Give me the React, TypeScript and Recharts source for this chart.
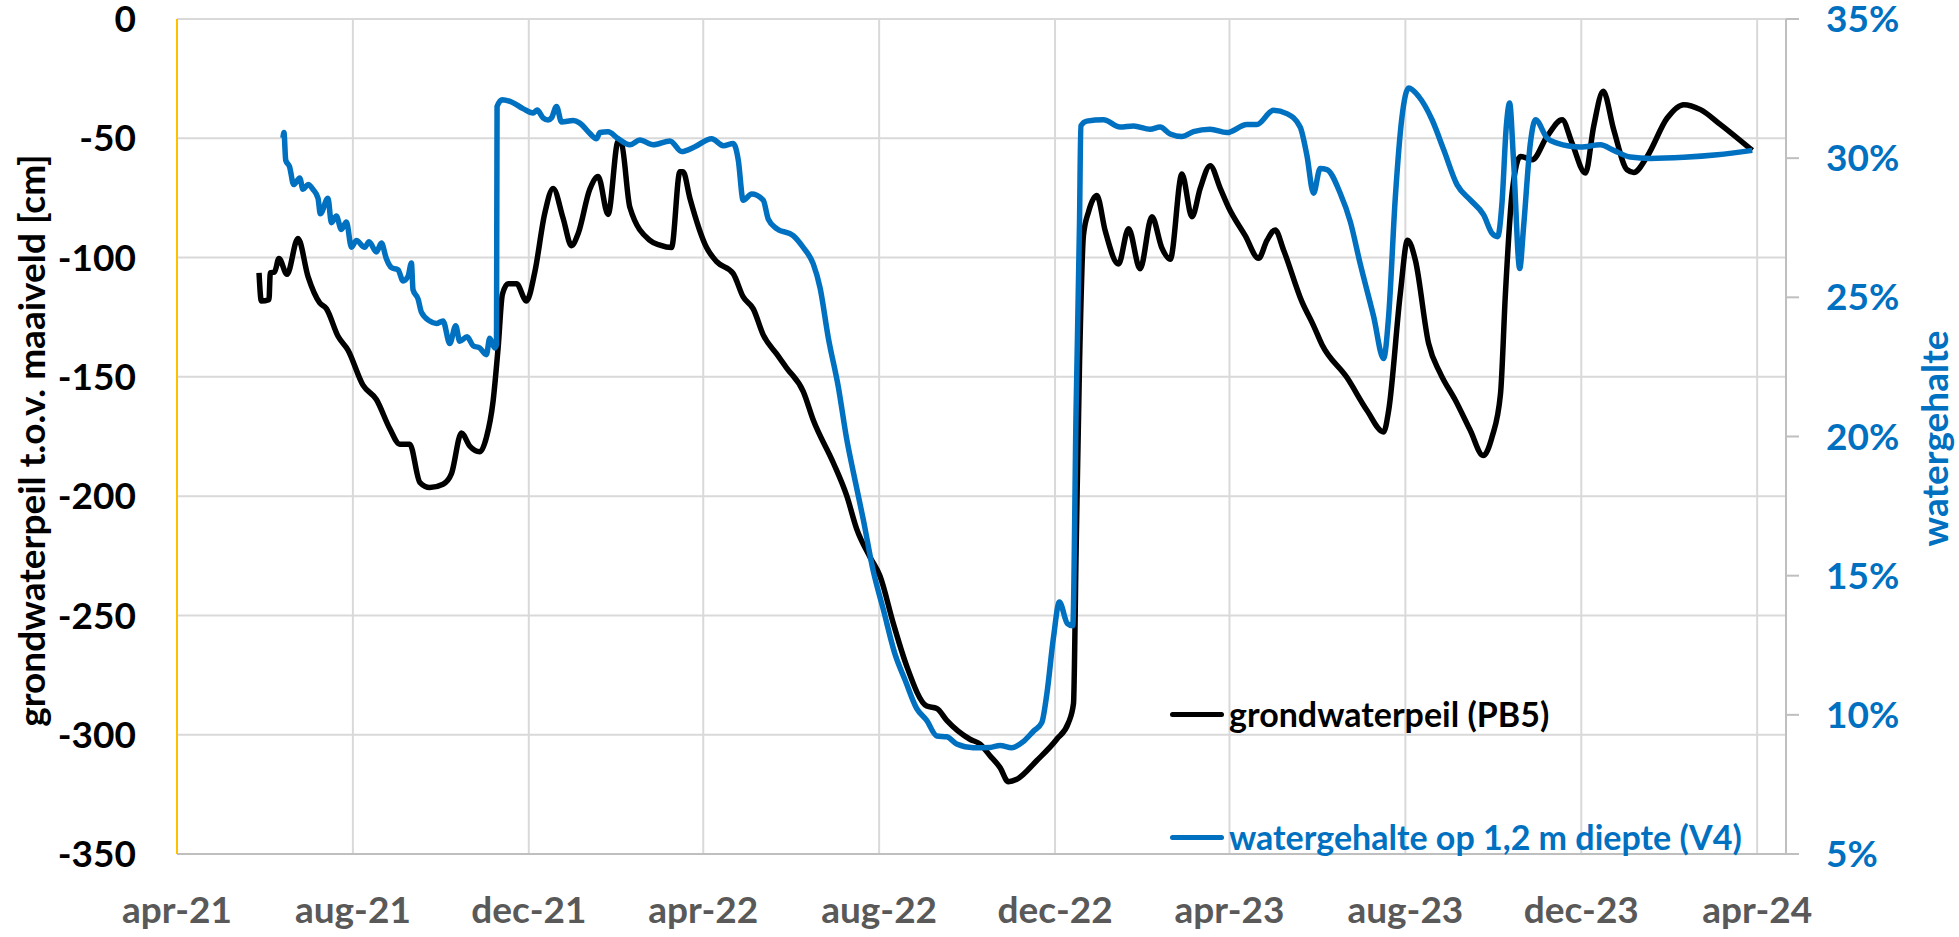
import React from 'react';
import { LineChart, Line, XAxis, YAxis, CartesianGrid, Legend } from 'recharts';

// x positions are days since 1 April 2021
const xTickDays = [0, 122, 244, 365, 487, 609, 730, 852, 974, 1096];
const xTickLabels = ['apr-21', 'aug-21', 'dec-21', 'apr-22', 'aug-22', 'dec-22', 'apr-23', 'aug-23', 'dec-23', 'apr-24'];
const gwTicks = [-350, -300, -250, -200, -150, -100, -50, 0];
const wgTicks = [5, 10, 15, 20, 25, 30, 35];

// grondwaterpeil (PB5) [cm t.o.v. maaiveld]
const gwDays = [
  56.9, 58.5, 63.8, 64.7, 67.7, 70.7, 76.3, 83.9, 90.9, 99, 103.6, 111.7, 118.6, 129, 138.3, 147.5, 154.5, 161.4,
  168.4, 175.3, 184.5, 190.4, 197.3, 203, 210, 214.6, 219.2, 222.7, 225.7, 229.7, 235.5, 242.4, 248.2, 255, 260.9,
  267.8, 273.6, 278.2, 286.3, 292.1, 299, 306, 308.3, 314.1, 328, 335, 343, 348.8, 351, 355.7, 367.3, 374.3, 385.8,
  392.7, 399.7, 406.6, 415.9, 422.9, 434.4, 441.3, 455.2, 464.5, 471.4, 480.7, 487.6, 496.8, 506.1, 520, 527, 533.9,
  550, 557, 563.9, 570.9, 576.6, 582.5, 596.4, 610.2, 618.3, 621.8, 623.6, 626, 628.7, 632.2, 638, 643.8, 653, 660,
  668, 676.2, 683, 688.9, 697, 704, 709.7, 716.6, 723.6, 729.3, 740.9, 750.2, 756, 761.7, 767.5, 780.3, 788.3, 794.1,
  811.5, 825.4, 836.9, 840.4, 848.5, 853.5, 858.9, 868.1, 876.3, 886.7, 897, 905.9, 912.1, 918, 921.4, 926, 931.8,
  939.9, 950.3, 960.7, 967.6, 976.9, 982.6, 989.2, 996.5, 1005.8, 1010.4, 1019.7, 1033.6, 1045.1, 1056.7, 1070.6, 1092.6,
];
const gwValues = [
  -106.4, -118.2, -117.6, -106.4, -106, -100.4, -107, -92, -108, -119, -121.4, -133, -138.8, -153.5, -159.5, -171.6,
  -178.2, -178.2, -194.2, -196.4, -195, -190.5, -173.5, -179, -181.4, -175.4, -160.4, -138, -115.4, -111, -111, -118.2,
  -106, -81.7, -71, -83.5, -95, -90, -71.4, -66, -81.9, -51.2, -52.2, -78.9, -92.8, -94.8, -95.8, -64, -64, -75, -95.8,
  -101.7, -106.7, -116.5, -121.5, -132.4, -140.4, -146.3, -156.2, -168.1, -186, -199.8, -213.7, -225.6, -233.5, -253.3,
  -271.2, -288, -289, -294, -301.9, -303.9, -308.8, -313.8, -319.7, -318.7, -310.8, -301.9, -295, -287, -223.7, -144,
  -90.8, -80.9, -74, -88.8, -102.7, -87.9, -104.7, -82.9, -95.8, -100.7, -65, -82.9, -71, -61.5, -71, -78.9, -90.8,
  -100.3, -92.8, -88.4, -96.8, -118.6, -128.5, -136.4, -150.3, -164.1, -173.1, -164.1, -115, -92.7, -101, -136, -148.6,
  -159.8, -172.4, -183, -175.2, -157, -115, -73, -57.6, -59, -49.2, -42.2, -52, -64.6, -45, -30.3, -46.4, -63.2, -64.3,
  -57.6, -41.5, -35.9, -38, -44.3, -55.1,
];

// watergehalte op 1,2 m diepte (V4) [%]
const wgDays = [
  73.5, 74.2, 75.4, 78.1, 80.9, 85.1, 87.4, 90.9, 94.3, 97.8, 99.4, 104.7, 107.1, 110.5, 114, 117.5, 121, 124.4, 130.2,
  133.2, 138.3, 141.8, 145.2, 148.7, 153.3, 156.8, 160.2, 162.6, 163.7, 167.2, 169.5, 175.3, 179.9, 184.5, 189.2, 193.3,
  196.1, 201.2, 205.4, 210, 214.6, 216.9, 220.4, 221.6, 222, 225.7, 232, 240, 247, 249.7, 253.9, 257.4, 259.8, 263.2,
  266.7, 274.8, 279.4, 286.3, 291, 293.3, 299, 306, 314.1, 321, 330.3, 341.9, 350, 359.2, 370.8, 378.9, 385.8, 389.3,
  392.7, 398.6, 406.6, 410.1, 415.9, 427.4, 434.4, 441.3, 446, 451.7, 458.7, 464.5, 469.1, 476, 483, 489.9, 498, 505,
  513, 520, 527, 533.9, 540.8, 552.4, 563.9, 570.9, 579, 587, 594, 599.8, 603.3, 607.9, 612, 617.6, 621.3, 623.6, 626,
  626.9, 631, 642.6, 654.1, 663.4, 675, 681.9, 688.9, 697, 705, 716.6, 728.2, 742.1, 749, 760.5, 769.8, 779, 783.7,
  788.3, 792.9, 797.6, 806.8, 813.8, 820.7, 829.9, 836.9, 840.4, 845, 849.6, 854.3, 861.2, 870.5, 878.6, 887.9, 897,
  906.3, 912.1, 916, 919, 922, 924.3, 927, 931.3, 934, 938.7, 942.2, 950.3, 957.2, 973.4, 987.3, 996.5, 1008, 1022,
  1045.1, 1068.3, 1092.6,
];
const wgValues = [
  30.73, 30.92, 29.93, 29.69, 29.05, 29.29, 28.88, 29.05, 28.88, 28.56, 28.0, 28.56, 27.68, 27.92, 27.44, 27.71, 26.8,
  27.04, 26.8, 27.0, 26.63, 26.95, 26.39, 26.07, 25.99, 25.59, 25.75, 26.23, 25.27, 24.94, 24.47, 24.15, 24.06, 24.15,
  23.34, 23.98, 23.42, 23.58, 23.26, 23.18, 22.94, 23.53, 23.18, 23.3, 31.86, 32.1, 32.02, 31.78, 31.62, 31.73, 31.45,
  31.37, 31.45, 31.86, 31.3, 31.35, 31.26, 30.89, 30.7, 30.92, 30.95, 30.7, 30.48, 30.65, 30.48, 30.62, 30.24, 30.41,
  30.7, 30.45, 30.53, 29.93, 28.49, 28.71, 28.49, 27.81, 27.47, 27.22, 26.79, 26.2, 25.35, 23.56, 21.78, 19.91, 18.72,
  17.02, 15.15, 13.79, 12.18, 11.25, 10.23, 9.8, 9.24, 9.21, 8.95, 8.82, 8.83, 8.9, 8.82, 9.04, 9.41, 9.72, 10.74, 12.77,
  14.05, 13.28, 13.2, 20.93, 27.72, 31.16, 31.33, 31.38, 31.12, 31.16, 31.04, 31.12, 30.87, 30.78, 30.95, 31.04, 30.92,
  31.21, 31.21, 31.72, 31.6, 31.12, 30.1, 28.74, 29.63, 29.59, 28.74, 27.72, 26.2, 24.33, 22.8, 24.33, 28.57, 31.46,
  32.52, 32.22, 31.38, 30.3, 29.04, 28.5, 27.96, 27.3, 27.18, 28.38, 31.14, 31.98, 29.94, 26.04, 27.54, 30.54, 31.38,
  30.72, 30.54, 30.4, 30.48, 30.28, 30.04, 29.99, 30.03, 30.12, 30.28,
];

const gwData = gwDays.map((d, i) => ({ d, v: gwValues[i] }));
const wgData = wgDays.map((d, i) => ({ d, v: wgValues[i] }));

const FONT = 'Lato, "Open Sans", sans-serif';
const BLUE = '#0070C0';
const GRID = '#D9D9D9';
const AXIS = '#BFBFBF';

const xLabel = (v: number) => {
  const i = xTickDays.indexOf(v);
  return i >= 0 ? xTickLabels[i] : '';
};

const renderLegend = (props: any) => {
  const payload = props.payload || [];
  return (
    <div style={{ position: 'relative', width: 620, height: 180 }}>
      {payload.map((entry: any, i: number) => (
        <div
          key={i}
          style={{
            position: 'absolute',
            left: 0,
            top: i * 123,
            height: 48,
            display: 'flex',
            alignItems: 'center',
            whiteSpace: 'nowrap',
          }}
        >
          <div style={{ width: 54, height: 5, background: entry.color, borderRadius: 3 }} />
          <span
            style={{
              marginLeft: 5,
              color: entry.color,
              fontFamily: FONT,
              fontWeight: 700,
              fontSize: 34,
              lineHeight: '48px',
            }}
          >
            {entry.value}
          </span>
        </div>
      ))}
    </div>
  );
};

export default function App() {
  return (
    <div style={{ position: 'absolute', left: 0, top: 0, width: 1959, height: 937, background: '#fff' }}>
      <LineChart width={1959} height={937} margin={{ top: 19, right: 0, bottom: 0, left: 0 }}>
        <CartesianGrid yAxisId="left" stroke={GRID} strokeWidth={2} />
        <XAxis
          dataKey="d"
          type="number"
          domain={[0, 1116]}
          ticks={xTickDays}
          interval={0}
          tickFormatter={xLabel}
          height={83}
          axisLine={{ stroke: AXIS, strokeWidth: 2 }}
          tickLine={false}
          tickSize={0}
          tickMargin={43}
          tick={{ fill: '#595959', fontSize: 37, fontWeight: 700, fontFamily: FONT }}
        />
        <YAxis
          yAxisId="left"
          orientation="left"
          width={177}
          domain={[-350, 0]}
          ticks={gwTicks}
          interval={0}
          axisLine={{ stroke: '#FFC000', strokeWidth: 2 }}
          tickLine={false}
          tickSize={0}
          tickMargin={41}
          tick={{ fill: '#000', fontSize: 37, fontWeight: 700, fontFamily: FONT }}
          label={{
            value: 'grondwaterpeil t.o.v. maaiveld [cm]',
            angle: -90,
            position: 'center',
            dx: -57,
            dy: 4,
            style: { fill: '#000', fontSize: 37, fontWeight: 700, fontFamily: FONT },
          }}
        />
        <YAxis
          yAxisId="right"
          orientation="right"
          width={173}
          domain={[5, 35]}
          ticks={wgTicks}
          interval={0}
          tickFormatter={(v: number) => `${v}%`}
          axisLine={{ stroke: AXIS, strokeWidth: 2 }}
          tickLine={{ stroke: AXIS, strokeWidth: 2 }}
          tickSize={13}
          tickMargin={27}
          tick={{ fill: BLUE, fontSize: 37, fontWeight: 700, fontFamily: FONT }}
          label={{
            value: 'watergehalte',
            angle: -90,
            position: 'center',
            dx: 62,
            dy: 2,
            style: { fill: BLUE, fontSize: 37, fontWeight: 700, fontFamily: FONT },
          }}
        />
        <Legend
          layout="vertical"
          align="center"
          verticalAlign="middle"
          content={renderLegend}
          wrapperStyle={{ position: 'absolute', left: 1170, top: 690, width: 620 }}
        />
        <Line
          yAxisId="left"
          data={gwData}
          dataKey="v"
          name="grondwaterpeil (PB5)"
          type="monotone"
          stroke="#000"
          strokeWidth={5.5}
          dot={false}
          activeDot={false}
          isAnimationActive={false}
        />
        <Line
          yAxisId="right"
          data={wgData}
          dataKey="v"
          name="watergehalte op 1,2 m diepte (V4)"
          type="monotone"
          stroke={BLUE}
          strokeWidth={5.5}
          dot={false}
          activeDot={false}
          isAnimationActive={false}
        />
      </LineChart>
    </div>
  );
}
